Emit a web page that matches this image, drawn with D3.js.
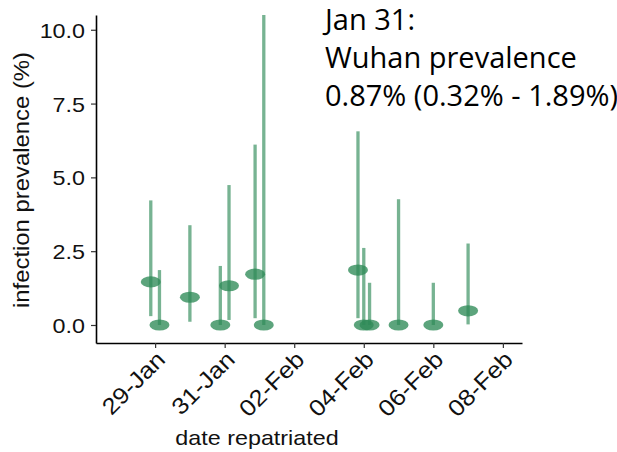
<!DOCTYPE html>
<html>
<head>
<meta charset="utf-8">
<script src="https://cdn.jsdelivr.net/npm/d3@7"></script>
<style>
  html, body { margin: 0; padding: 0; background: #fff; }
  svg { display: block; }
</style>
</head>
<body>
<svg id="chart" width="617" height="452"></svg>
<script>
// ---- data ----
const dates      = ["2020-01-29","2020-01-29","2020-01-30","2020-01-31","2020-01-31","2020-02-01","2020-02-01","2020-02-04","2020-02-04","2020-02-04","2020-02-05","2020-02-06","2020-02-07"];
const prevalence = [1.46, 0.00, 0.94, 0.00, 1.33, 1.72, 0.00, 1.86, 0.00, 0.00, 0.00, 0.00, 0.48];
const lower      = [0.30, 0.00, 0.11, 0.00, 0.17, 0.23, 0.00, 0.23, 0.00, 0.00, 0.00, 0.00, 0.02];
const upper      = [4.22, 1.86, 3.38, 2.00, 4.74, 6.11, 10.50, 6.56, 2.61, 1.43, 4.26, 1.43, 2.76];
const yTicks     = [0, 2.5, 5, 7.5, 10];
const xTickDates = ["2020-01-29","2020-01-31","2020-02-02","2020-02-04","2020-02-06","2020-02-08"];
const annotation = ["Jan 31:", "Wuhan prevalence", "0.87% (0.32% - 1.89%)"];
const xTitle = "date repatriated";
const yTitle = "infection prevalence (%)";

const parse = d3.timeParse("%Y-%m-%d");
const DAY = 864e5;

// dodge within same date
const counts = d3.rollup(dates, v => v.length, d => d);
const seen = new Map();
const rows = dates.map((d, i) => {
  const n = counts.get(d);
  const k = seen.get(d) || 0; seen.set(d, k + 1);
  const off = (k - (n - 1) / 2) * (0.5 / n);
  return { t: new Date(parse(d).getTime() + off * DAY), p: prevalence[i], lo: lower[i], hi: upper[i] };
});

const svg = d3.select("#chart");
const x = d3.scaleTime()
  .domain([new Date(parse("2020-01-27").getTime() + 0.3 * DAY), new Date(parse("2020-02-08").getTime() + 0.55 * DAY)])
  .range([96, 522]);
const y = d3.scaleLinear().domain([-0.61, 10.5]).range([343, 15]);

const green = "#2e8b57";

// error bars
svg.append("g").selectAll("line").data(rows).join("line")
  .attr("x1", d => x(d.t)).attr("x2", d => x(d.t))
  .attr("y1", d => y(d.lo)).attr("y2", d => y(d.hi))
  .attr("stroke", green).attr("stroke-opacity", 0.65).attr("stroke-width", 3.3);

// points
svg.append("g").selectAll("ellipse").data(rows).join("ellipse")
  .attr("cx", d => x(d.t)).attr("cy", d => y(d.p))
  .attr("rx", 10).attr("ry", 5.6)
  .attr("fill", green).attr("fill-opacity", 0.78);

const font = "'Liberation Sans', Arial, sans-serif";
const STRETCH = 1.11;
function widen(sel) {
  sel.each(function() {
    const w = this.getComputedTextLength();
    d3.select(this).attr("textLength", w * STRETCH).attr("lengthAdjust", "spacingAndGlyphs");
  });
}

// y axis
const yAxis = svg.append("g").attr("transform", "translate(96,0)")
  .call(d3.axisLeft(y).tickValues(yTicks).tickFormat(d3.format(".1f")).tickSize(5).tickSizeOuter(0));
yAxis.select(".domain").attr("stroke", "#000").attr("stroke-width", 1.6);
yAxis.selectAll(".tick line").attr("stroke", "#333").attr("stroke-width", 1.2);
yAxis.selectAll(".tick text").attr("font-family", font).attr("font-size", 21).attr("fill", "#111").attr("x", -11).attr("dy", "0.36em")
  .call(widen);

// x axis
const xAxis = svg.append("g").attr("transform", "translate(0,343)")
  .call(d3.axisBottom(x).tickValues(xTickDates.map(parse)).tickFormat(d3.timeFormat("%d-%b")).tickSize(5).tickSizeOuter(0));
xAxis.select(".domain").attr("stroke", "#000").attr("stroke-width", 1.6);
xAxis.selectAll(".tick line").attr("stroke", "#333").attr("stroke-width", 1.2);
xAxis.selectAll(".tick text")
  .attr("font-family", font).attr("font-size", 23).attr("fill", "#111")
  .attr("text-anchor", "end").attr("dy", 0).attr("y", 0)
  .attr("transform", "translate(11,18) rotate(-45)")
  .call(widen);

// axis titles
svg.append("text").attr("x", 257).attr("y", 445).attr("text-anchor", "middle")
  .attr("font-family", font).attr("font-size", 21).attr("fill", "#111").text(xTitle).call(widen);
svg.append("text").attr("transform", "translate(29,180) rotate(-90)").attr("text-anchor", "middle")
  .attr("font-family", font).attr("font-size", 21.5).attr("fill", "#111").text(yTitle).call(widen);

// annotation
const ann = svg.append("text").attr("font-family", "'Open Sans', 'Noto Sans', sans-serif").attr("font-size", 29).attr("fill", "#000");
const baselines = [29.5, 67.5, 106];
annotation.forEach((s, i) => ann.append("tspan").attr("x", 325).attr("y", baselines[i]).text(s));
</script>
</body>
</html>
